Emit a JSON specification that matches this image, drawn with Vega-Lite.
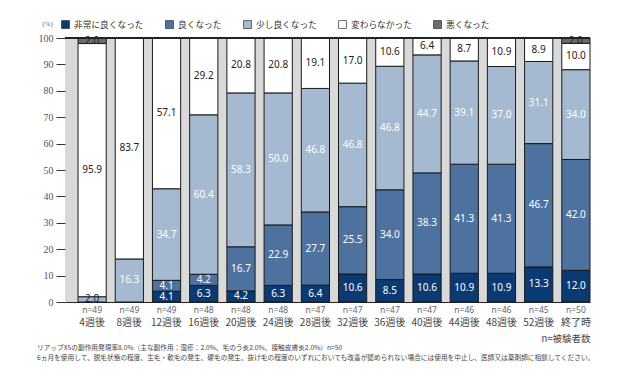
{
  "$schema": "https://vega.github.io/schema/vega-lite/v6.json",
  "width": 525,
  "height": 264,
  "autosize": {"type": "none"},
  "padding": {"left": 65, "top": 38, "right": 40, "bottom": 79},
  "background": "white",
  "title": {
    "text": ["リアップX5の副作用発現率8.0%（主な副作用：湿疹：2.0%、毛のう炎2.0%、接触皮膚炎2.0%）n=50", "6ヵ月を使用して、脱毛状態の程度、生毛・軟毛の発生、硬毛の発生、抜け毛の程度のいずれにおいても改善が認められない場合には使用を中止し、医師又は薬剤師に相談してください。"],
    "orient": "bottom",
    "anchor": "start",
    "frame": "group",
    "dx": -28,
    "offset": 2,
    "font": "Noto Sans CJK JP",
    "fontSize": 6.7,
    "fontWeight": "normal",
    "color": "#444",
    "lineHeight": 10
  },
  "data": {
    "values": [
      {"group": "n=49|4週後", "cat": "少し良くなった", "ord": 3, "value": 2.0},
      {"group": "n=49|4週後", "cat": "変わらなかった", "ord": 4, "value": 95.9},
      {"group": "n=49|4週後", "cat": "悪くなった", "ord": 5, "value": 2.0},
      {"group": "n=49|8週後", "cat": "少し良くなった", "ord": 3, "value": 16.3},
      {"group": "n=49|8週後", "cat": "変わらなかった", "ord": 4, "value": 83.7},
      {"group": "n=49|12週後", "cat": "非常に良くなった", "ord": 1, "value": 4.1},
      {"group": "n=49|12週後", "cat": "良くなった", "ord": 2, "value": 4.1},
      {"group": "n=49|12週後", "cat": "少し良くなった", "ord": 3, "value": 34.7},
      {"group": "n=49|12週後", "cat": "変わらなかった", "ord": 4, "value": 57.1},
      {"group": "n=48|16週後", "cat": "非常に良くなった", "ord": 1, "value": 6.3},
      {"group": "n=48|16週後", "cat": "良くなった", "ord": 2, "value": 4.2},
      {"group": "n=48|16週後", "cat": "少し良くなった", "ord": 3, "value": 60.4},
      {"group": "n=48|16週後", "cat": "変わらなかった", "ord": 4, "value": 29.2},
      {"group": "n=48|20週後", "cat": "非常に良くなった", "ord": 1, "value": 4.2},
      {"group": "n=48|20週後", "cat": "良くなった", "ord": 2, "value": 16.7},
      {"group": "n=48|20週後", "cat": "少し良くなった", "ord": 3, "value": 58.3},
      {"group": "n=48|20週後", "cat": "変わらなかった", "ord": 4, "value": 20.8},
      {"group": "n=48|24週後", "cat": "非常に良くなった", "ord": 1, "value": 6.3},
      {"group": "n=48|24週後", "cat": "良くなった", "ord": 2, "value": 22.9},
      {"group": "n=48|24週後", "cat": "少し良くなった", "ord": 3, "value": 50.0},
      {"group": "n=48|24週後", "cat": "変わらなかった", "ord": 4, "value": 20.8},
      {"group": "n=47|28週後", "cat": "非常に良くなった", "ord": 1, "value": 6.4},
      {"group": "n=47|28週後", "cat": "良くなった", "ord": 2, "value": 27.7},
      {"group": "n=47|28週後", "cat": "少し良くなった", "ord": 3, "value": 46.8},
      {"group": "n=47|28週後", "cat": "変わらなかった", "ord": 4, "value": 19.1},
      {"group": "n=47|32週後", "cat": "非常に良くなった", "ord": 1, "value": 10.6},
      {"group": "n=47|32週後", "cat": "良くなった", "ord": 2, "value": 25.5},
      {"group": "n=47|32週後", "cat": "少し良くなった", "ord": 3, "value": 46.8},
      {"group": "n=47|32週後", "cat": "変わらなかった", "ord": 4, "value": 17.0},
      {"group": "n=47|36週後", "cat": "非常に良くなった", "ord": 1, "value": 8.5},
      {"group": "n=47|36週後", "cat": "良くなった", "ord": 2, "value": 34.0},
      {"group": "n=47|36週後", "cat": "少し良くなった", "ord": 3, "value": 46.8},
      {"group": "n=47|36週後", "cat": "変わらなかった", "ord": 4, "value": 10.6},
      {"group": "n=47|40週後", "cat": "非常に良くなった", "ord": 1, "value": 10.6},
      {"group": "n=47|40週後", "cat": "良くなった", "ord": 2, "value": 38.3},
      {"group": "n=47|40週後", "cat": "少し良くなった", "ord": 3, "value": 44.7},
      {"group": "n=47|40週後", "cat": "変わらなかった", "ord": 4, "value": 6.4},
      {"group": "n=46|44週後", "cat": "非常に良くなった", "ord": 1, "value": 10.9},
      {"group": "n=46|44週後", "cat": "良くなった", "ord": 2, "value": 41.3},
      {"group": "n=46|44週後", "cat": "少し良くなった", "ord": 3, "value": 39.1},
      {"group": "n=46|44週後", "cat": "変わらなかった", "ord": 4, "value": 8.7},
      {"group": "n=46|48週後", "cat": "非常に良くなった", "ord": 1, "value": 10.9},
      {"group": "n=46|48週後", "cat": "良くなった", "ord": 2, "value": 41.3},
      {"group": "n=46|48週後", "cat": "少し良くなった", "ord": 3, "value": 37.0},
      {"group": "n=46|48週後", "cat": "変わらなかった", "ord": 4, "value": 10.9},
      {"group": "n=45|52週後", "cat": "非常に良くなった", "ord": 1, "value": 13.3},
      {"group": "n=45|52週後", "cat": "良くなった", "ord": 2, "value": 46.7},
      {"group": "n=45|52週後", "cat": "少し良くなった", "ord": 3, "value": 31.1},
      {"group": "n=45|52週後", "cat": "変わらなかった", "ord": 4, "value": 8.9},
      {"group": "n=50|終了時", "cat": "非常に良くなった", "ord": 1, "value": 12.0},
      {"group": "n=50|終了時", "cat": "良くなった", "ord": 2, "value": 42.0},
      {"group": "n=50|終了時", "cat": "少し良くなった", "ord": 3, "value": 34.0},
      {"group": "n=50|終了時", "cat": "変わらなかった", "ord": 4, "value": 10.0},
      {"group": "n=50|終了時", "cat": "悪くなった", "ord": 5, "value": 2.0}
    ]
  },
  "layer": [
    {
      "mark": {"type": "bar", "stroke": "#1a1a1a", "strokeWidth": 1},
      "encoding": {
        "x": {
          "field": "group", "type": "nominal", "sort": null,
          "scale": {"paddingInner": 0.242, "paddingOuter": 0.175, "align": 1},
          "axis": {
            "orient": "bottom", "title": null,
            "labelExpr": "split(datum.value, '|')[0]",
            "labelAngle": 0, "labelFont": "Noto Sans", "labelFontSize": 8.5, "labelColor": "#666",
            "labelPadding": 3, "ticks": false, "domain": true, "domainColor": "#222", "domainWidth": 1,
            "labelOverlap": false
          }
        },
        "y": {
          "field": "value", "type": "quantitative", "stack": "zero",
          "scale": {"domain": [0, 100], "nice": false},
          "axis": {
            "values": [0, 10, 20, 30, 40, 50, 60, 70, 80, 90, 100],
            "labelOverlap": false,
            "title": "(%)", "titleAngle": 0, "titleX": -18, "titleY": -15,
            "titleFont": "Liberation Serif", "titleFontSize": 7, "titleFontWeight": "normal", "titleColor": "#666",
            "titleAlign": "center", "titleBaseline": "middle",
            "labelFont": "Liberation Serif", "labelFontSize": 10, "labelColor": "#555",
            "tickSize": 9, "tickColor": "#333", "labelPadding": 3, "domain": false, "grid": false
          }
        },
        "color": {
          "field": "cat", "type": "nominal",
          "scale": {
            "domain": ["非常に良くなった", "良くなった", "少し良くなった", "変わらなかった", "悪くなった"],
            "range": ["#0b3a73", "#4d72a0", "#a5b9d1", "#ffffff", "#6b6b6b"]
          },
          "legend": {
            "orient": "none", "legendX": -4, "legendY": -18, "direction": "horizontal", "title": null,
            "symbolType": "square", "symbolSize": 64, "symbolStrokeColor": "#333", "symbolStrokeWidth": 0.7,
            "labelFont": "Noto Sans CJK JP", "labelFontSize": 8.7, "labelColor": "#333",
            "columnPadding": 20, "labelOffset": 4
          }
        },
        "order": {"field": "ord", "type": "quantitative"}
      }
    },
    {
      "mark": {"type": "text", "font": "Noto Sans", "fontSize": 10, "baseline": "middle"},
      "encoding": {
        "x": {
          "field": "group", "type": "nominal", "sort": null,
          "axis": {
            "orient": "bottom",
            "labelExpr": "split(datum.value, '|')[1]",
            "labelAngle": 0, "labelFont": "Noto Sans CJK JP", "labelFontSize": 10, "labelColor": "#444",
            "labelPadding": 15, "ticks": false, "domain": false, "labelOverlap": false,
            "title": "n=被験者数", "titleAnchor": "end", "titleFont": "Noto Sans CJK JP", "titleFontSize": 9.5,
            "titleFontWeight": "normal", "titleColor": "#444", "titlePadding": 6
          }
        },
        "y": {
          "field": "value", "type": "quantitative", "stack": "zero", "bandPosition": 0.5,
          "axis": {
            "values": [0, 10, 20, 30, 40, 50, 60, 70, 80, 90, 100],
            "labelOverlap": false,
            "title": "(%)", "titleAngle": 0, "titleX": -18, "titleY": -15,
            "titleFont": "Liberation Serif", "titleFontSize": 7, "titleFontWeight": "normal", "titleColor": "#666",
            "titleAlign": "center", "titleBaseline": "middle",
            "labelFont": "Liberation Serif", "labelFontSize": 10, "labelColor": "#555",
            "tickSize": 9, "tickColor": "#333", "labelPadding": 3, "domain": false, "grid": false
          }
        },
        "order": {"field": "ord", "type": "quantitative"},
        "text": {"field": "value", "type": "quantitative", "format": ".1f"},
        "color": {
          "condition": {"test": "datum.cat === '変わらなかった' || datum.cat === '悪くなった' || datum.value < 3", "value": "#222"},
          "value": "#ffffff"
        }
      }
    },
    {
      "mark": {"type": "rule", "color": "#222", "strokeWidth": 1},
      "encoding": {
        "y": {
          "datum": 100,
          "axis": {
            "values": [0, 10, 20, 30, 40, 50, 60, 70, 80, 90, 100],
            "labelOverlap": false,
            "title": "(%)", "titleAngle": 0, "titleX": -18, "titleY": -15,
            "titleFont": "Liberation Serif", "titleFontSize": 7, "titleFontWeight": "normal", "titleColor": "#666",
            "titleAlign": "center", "titleBaseline": "middle",
            "labelFont": "Liberation Serif", "labelFontSize": 10, "labelColor": "#555",
            "tickSize": 9, "tickColor": "#333", "labelPadding": 3, "domain": false, "grid": false
          }
        }
      }
    }
  ],
  "resolve": {"axis": {"x": "independent"}},
  "config": {
    "view": {"fill": "#d9d9d9", "stroke": null}
  }
}
